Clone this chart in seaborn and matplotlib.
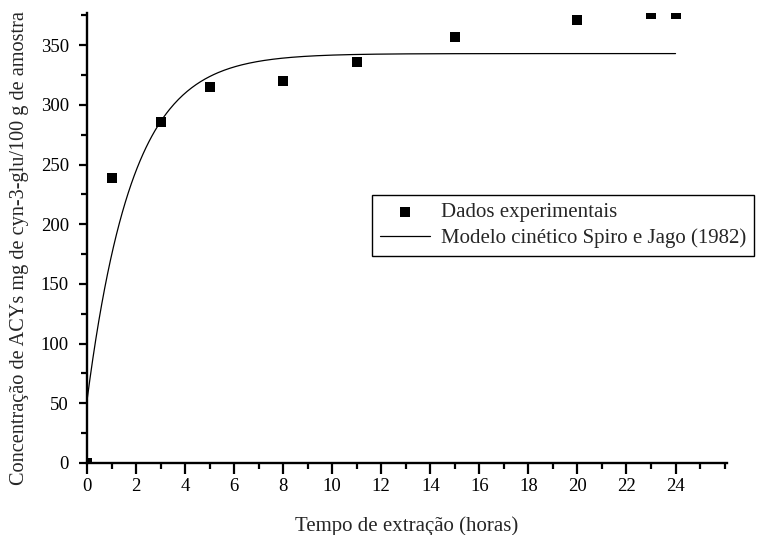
import numpy as np
import pandas as pd
import matplotlib
matplotlib.use("Agg")
import matplotlib.pyplot as plt
from matplotlib.ticker import MultipleLocator
import seaborn as sns

# Experimental anthocyanin concentration over extraction time
tempo_h = [0, 1, 3, 5, 8, 11, 15, 20, 23, 24]
concentracao = [0, 239, 286, 315, 320, 336, 357, 371, 376, 376]

# Spiro & Jago (1982) first-order kinetic model parameters
c_inicial = 52.0
c_equilibrio = 343.0
k_taxa = 0.543
t_modelo_max = 24.0

x_ticks = [0, 2, 4, 6, 8, 10, 12, 14, 16, 18, 20, 22, 24]
y_ticks = [0, 50, 100, 150, 200, 250, 300, 350]

sns.set_style("ticks")
plt.rcParams["font.family"] = ["Liberation Serif", "DejaVu Serif"]

fig = plt.figure(figsize=(7.57, 5.35), dpi=100)
ax = fig.add_axes([0.1149, 0.1346, 0.8455, 0.8411])

t_modelo = np.linspace(0, t_modelo_max, 400)
c_modelo = c_equilibrio - (c_equilibrio - c_inicial) * np.exp(-k_taxa * t_modelo)
df_modelo = pd.DataFrame({"t": t_modelo, "c": c_modelo})
df_exp = pd.DataFrame({"t": tempo_h, "c": concentracao})

sns.scatterplot(data=df_exp, x="t", y="c", ax=ax, marker="s", s=55,
                color="black", edgecolor="black", linewidth=0,
                label="Dados experimentais", zorder=3)
sns.lineplot(data=df_modelo, x="t", y="c", ax=ax, color="black", linewidth=0.9,
             label="Modelo cinético Spiro e Jago (1982)", zorder=2)

ax.set_xlim(0, 26.1)
ax.set_ylim(0, 377)
ax.set_xticks(x_ticks)
ax.set_yticks(y_ticks)
ax.xaxis.set_minor_locator(MultipleLocator(1))
ax.yaxis.set_minor_locator(MultipleLocator(25))
ax.tick_params(axis="both", which="both", direction="out", width=1.6,
               labelsize=13.5, colors="black")
ax.tick_params(axis="x", which="major", length=8, pad=3)
ax.tick_params(axis="x", which="minor", length=4)
ax.tick_params(axis="y", which="major", length=6, pad=7)
ax.tick_params(axis="y", which="minor", length=4)
for side in ["top", "right"]:
    ax.spines[side].set_visible(False)
for side in ["left", "bottom"]:
    ax.spines[side].set_linewidth(1.7)
    ax.spines[side].set_color("black")

ax.set_xlabel("Tempo de extração (horas)", fontsize=15, labelpad=15)
ax.set_ylabel("Concentração de ACYs mg de cyn-3-glu/100 g de amostra", fontsize=14.6)
ax.yaxis.set_label_coords(-0.091, 0.478)

leg = ax.legend(loc="upper left", bbox_to_anchor=(0.445, 0.596), frameon=True,
                fancybox=False, edgecolor="black", fontsize=15,
                borderpad=0.38, handlelength=2.4, handletextpad=0.55,
                labelspacing=0.3, borderaxespad=0)
leg.get_frame().set_linewidth(1.0)
leg.get_frame().set_alpha(1)

fig.savefig("out.png", dpi=100)
